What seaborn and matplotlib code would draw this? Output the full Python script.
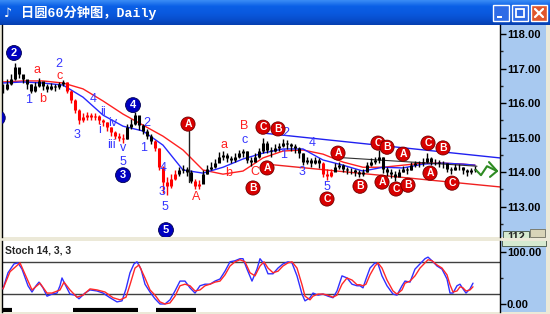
import numpy as np
import pandas as pd
import matplotlib
matplotlib.use("Agg")
import matplotlib.pyplot as plt
import seaborn as sns
from matplotlib.patches import Rectangle
from matplotlib.colors import LinearSegmentedColormap

# ---------------- data ----------------
close = [116.40,116.55,116.70,117.05,116.85,116.70,116.55,116.35,116.50,116.65,
         116.50,116.40,116.50,116.45,116.55,116.62,116.35,116.10,115.80,115.50,
         115.60,115.65,115.60,115.62,115.50,115.45,115.30,115.15,115.05,115.00,
         114.95,115.30,115.40,115.65,115.35,115.20,115.05,114.90,114.70,114.15,
         113.70,113.60,113.80,113.95,114.05,114.10,114.00,113.75,113.60,113.65,
         113.95,114.10,114.15,114.25,114.45,114.50,114.40,114.35,114.45,114.55,
         114.60,114.35,114.30,114.45,114.60,114.85,114.65,114.60,114.70,114.75,
         114.85,114.80,114.75,114.70,114.55,114.30,114.35,114.25,114.35,114.25,
         113.95,113.90,114.00,114.15,114.20,114.10,114.05,114.05,114.00,113.95,
         114.00,114.20,114.30,114.35,114.45,114.10,114.00,113.95,113.85,114.00,
         114.10,114.05,114.20,114.25,114.25,114.30,114.40,114.30,114.30,114.25,
         114.25,114.10,114.05,114.15,114.15,114.05,114.00,114.05,114.10]
high = [116.55,116.70,116.85,117.15,117.00,116.80,116.65,116.55,116.62,116.72,
        116.62,116.55,116.58,116.55,116.62,116.68,116.62,116.38,116.12,115.82,
        115.70,115.75,115.72,115.72,115.65,115.55,115.45,115.32,115.20,115.12,
        115.10,115.38,115.55,115.75,115.62,115.40,115.25,115.10,114.92,114.70,
        114.18,113.85,113.95,114.05,114.15,114.20,114.15,114.05,113.80,113.78,
        114.05,114.20,114.28,114.38,114.58,114.62,114.55,114.48,114.55,114.65,
        114.68,114.62,114.45,114.55,114.70,115.00,114.90,114.72,114.80,114.85,
        114.95,114.92,114.85,114.80,114.72,114.55,114.45,114.40,114.45,114.40,
        114.28,114.10,114.10,114.25,114.28,114.22,114.15,114.12,114.10,114.05,
        114.10,114.28,114.40,114.45,114.65,114.45,114.15,114.08,114.02,114.10,
        114.18,114.15,114.28,114.32,114.32,114.40,114.55,114.45,114.38,114.35,
        114.32,114.25,114.15,114.22,114.22,114.15,114.10,114.12,114.18]
low = [116.30,116.38,116.52,116.68,116.72,116.58,116.42,116.28,116.32,116.45,
       116.38,116.32,116.38,116.36,116.42,116.48,116.30,116.00,115.70,115.40,
       115.45,115.52,115.50,115.50,115.38,115.33,115.20,115.05,114.95,114.90,
       114.85,114.95,115.25,115.35,115.22,115.10,114.95,114.80,114.60,114.05,
       113.40,113.35,113.55,113.78,113.90,113.98,113.88,113.68,113.50,113.52,
       113.70,113.95,114.05,114.12,114.28,114.35,114.30,114.25,114.30,114.42,
       114.45,114.25,114.18,114.28,114.42,114.55,114.55,114.45,114.58,114.62,
       114.72,114.68,114.62,114.55,114.42,114.20,114.22,114.15,114.22,114.12,
       113.85,113.78,113.85,114.02,114.08,114.00,113.95,113.95,113.90,113.85,
       113.90,114.00,114.18,114.22,114.25,113.98,113.90,113.82,113.75,113.90,
       114.00,113.95,114.05,114.15,114.15,114.18,114.25,114.20,114.20,114.15,
       114.12,114.00,113.95,114.05,114.05,113.95,113.90,113.95,114.00]
red_ranges = [(16, 30), (38, 43), (48, 49), (80, 82)]

ma_t = [0, 5, 10, 15, 20, 25, 30, 35, 40, 45, 50, 55, 60, 65, 70, 75, 80, 85,
        90, 95, 100, 105, 110, 115, 118]
ma_fast = [116.58,116.61,116.58,116.52,116.17,115.65,115.33,115.19,114.78,114.06,
           113.97,114.14,114.38,114.55,114.67,114.67,114.35,114.20,114.03,114.14,
           114.12,114.23,114.26,114.23,114.20]
ma_slow = [116.61,116.64,116.64,116.58,116.41,116.06,115.68,115.36,115.04,114.64,
           114.06,113.94,114.03,114.41,114.61,114.64,114.52,114.29,114.14,114.14,
           114.20,114.26,114.26,114.23,114.20]

chan_upper = ([65, 124.25], [115.13, 114.41])
chan_lower = ([66.75, 124.25], [114.22, 113.57])
chan_mid = ([83, 118.5], [114.43, 114.17])
forecast = ([118.25, 119.5, 121, 123.5], [114.06, 113.91, 114.17, 114.03])
forecast_head = ([121.5, 123.5, 121.75], [114.29, 114.03, 113.86])

k_t = [0,1.25,2.75,3.75,4.75,6.25,7.25,8.25,9,10,11,12.25,13.5,14.25,14.75,15.5,16.75,18,19,20.5,
       21.75,23.5,25,26.75,28.5,29.75,30.75,31.75,32.75,33.5,34.5,35.5,36.75,38,39.25,40.5,41.75,43,44.25,45.5,
       46.75,48,49.25,50.5,51.75,53,54.25,55.5,56.75,58,59.25,60,61,62.25,63.5,64.25,65.25,66.25,67.5,68.75,
       70,71.25,72.25,73.5,74.75,75.5,76.75,77.5,78.75,80,81.25,82.5,83.5,84.75,86,87.25,88.5,89.25,90,90.75,
       91.75,93,93.75,94.75,96,97.5,98.5,99.75,100.5,101.75,103,104.25,105.5,106.25,107.25,108.5,109.75,111,111.75,112.5,
       113.5,114.25,115,115.75,116.75,117.5]
k_val = [29,60,77,79,67,35,23,35,42,31,15,19,21,35,50,38,19,17,10,21,
         27,25,21,12,4,6,29,60,77,81,67,38,23,10,0,0,8,25,44,44,
         31,21,35,38,38,44,48,63,81,83,87,87,67,44,67,87,77,58,58,69,
         77,81,79,54,19,6,12,21,17,19,15,12,25,54,50,38,35,35,31,48,
         69,79,77,54,35,19,17,35,44,42,67,77,87,90,83,73,67,48,21,21,
         35,38,29,21,29,40]
d_t = [0,1.75,4.25,7.25,9.25,11,12.25,14.25,15.25,16.75,18.5,20,21.75,23.5,25.5,27.5,29.25,30.75,31.75,33,
       34,35.5,36.75,38,39.25,40.5,41.75,43,44.25,45.5,46.75,48,49.25,50.5,51.75,53,54.25,55.5,56.75,58,
       59.25,60.5,61.75,63,64.25,65.25,66.25,67.5,68.75,70,71.25,72.25,73.5,74.75,75.5,76.75,77.5,78.75,80,81.25,
       82.5,83.5,84.75,86,87.25,88.5,89.25,90,90.75,91.75,93,93.75,94.75,96,97.5,98.5,99.75,100.5,101.75,103,
       104.25,105.5,106.25,107.25,108.5,109.75,111,111.75,112.5,113.5,114.25,115,115.75,116.75,117.5]
d_val = [29,62,79,27,40,21,21,27,42,27,13,17,29,27,23,12,8,13,37,69,
         75,50,27,17,4,0,2,15,35,38,35,25,27,35,38,42,44,56,73,81,
         85,81,60,54,73,81,69,60,63,73,79,81,69,37,15,8,15,19,19,17,
         13,17,38,50,46,37,37,35,38,56,73,79,69,46,25,19,27,40,44,54,
         69,79,85,83,75,69,56,37,23,25,33,31,25,27,33]
signal_bars = [(0, 2.25), (17.5, 33.75), (38.25, 48.25)]

price_ticks = [118, 117, 116, 115, 114, 113]
stoch_ticks = [0, 100]
stoch_levels = [20, 80]

wave_labels = [("1", 6.5, 116.09, "b"), ("2", 14, 117.13, "b"), ("a", 8.5, 116.96, "r"),
               ("b", 10, 116.12, "r"), ("c", 14.25, 116.78, "r"), ("3", 18.5, 115.07, "b"),
               ("4", 22.5, 116.12, "b"), ("i", 24.25, 115.22, "b"), ("ii", 25, 115.74, "b"),
               ("iii", 27, 114.78, "b"), ("iv", 27.5, 115.42, "b"), ("v", 30, 114.70, "b"),
               ("5", 30, 114.30, "b"), ("2", 36, 115.42, "b"), ("1", 35.25, 114.70, "b"),
               ("4", 40, 114.12, "b"), ("3", 39.75, 113.42, "b"), ("5", 40.5, 112.99, "b"),
               ("A", 48.25, 113.28, "r"), ("a", 55.25, 114.78, "r"), ("b", 56.5, 113.97, "r"),
               ("B", 60.25, 115.33, "r"), ("c", 60.5, 114.93, "b"), ("C", 63, 114.0, "r"),
               ("2", 70.75, 115.13, "b"), ("1", 70.25, 114.49, "b"), ("3", 74.75, 114.0, "b"),
               ("4", 77.25, 114.84, "b"), ("5", 81, 113.57, "b")]
red_circles = [("A", 46.25, 115.39), ("C", 65, 115.30), ("B", 68.75, 115.25), ("A", 66, 114.12),
               ("B", 62.5, 113.54), ("A", 83.75, 114.55), ("C", 81, 113.22), ("B", 89.25, 113.59),
               ("C", 93.75, 114.84), ("B", 96, 114.72), ("A", 94.75, 113.71), ("C", 98.25, 113.51),
               ("B", 101.25, 113.62), ("A", 100, 114.52), ("C", 106.25, 114.84), ("B", 110, 114.70),
               ("A", 106.75, 113.97), ("C", 112.25, 113.68)]
blue_circles = [("2", 2.75, 117.45), ("3", 30, 113.91), ("4", 32.5, 115.94), ("5", 40.75, 112.32),
                ("1", -1.3, 115.57)]

# ---------------- style ----------------
sns.set_theme(style="white")
plt.rcParams["font.family"] = ["Liberation Sans", "Noto Sans CJK SC", "DejaVu Sans"]

W, H = 550, 314
fig = plt.figure(figsize=(5.5, 3.14), dpi=100, facecolor="#ECE9D8")


def rect(x0, y0, x1, y1):
    return [x0 / W, 1 - y1 / H, (x1 - x0) / W, (y1 - y0) / H]


# background / window chrome
bg = fig.add_axes([0, 0, 1, 1])
bg.set_xlim(0, W)
bg.set_ylim(H, 0)
bg.axis("off")
bg.set_zorder(-1)
cmap = LinearSegmentedColormap.from_list("xp", ["#3A8CF5", "#0A5FE6", "#0A5AE0", "#0850D0", "#063FB0"])
bg.imshow(np.linspace(0, 1, 50).reshape(-1, 1), extent=(0, W, 25, 0), aspect="auto", cmap=cmap)
bg.text(8, 13, "♪", color="white", fontsize=9, ha="center", va="center", family="DejaVu Sans")
bg.text(21, 13, "日圆60分钟图，Daily", color="white", fontsize=9.5, fontweight="bold",
        ha="left", va="center", family=["Liberation Mono", "Noto Sans CJK SC"])
for x0, fc in [(493, "#2E6BE6"), (512, "#2E6BE6"), (531, "#E0562C")]:
    bg.add_patch(Rectangle((x0, 5), 16, 16, fc=fc, ec="white", lw=1))
bg.add_patch(Rectangle((497, 16), 5, 2, fc="white", ec="none"))
bg.add_patch(Rectangle((516, 9), 8, 8, fc="none", ec="white", lw=1.3))
bg.plot([535, 543], [9, 17], color="white", lw=1.6)
bg.plot([535, 543], [17, 9], color="white", lw=1.6)
bg.add_patch(Rectangle((500, 25), 46, 212, fc="#A8C9F0", ec="none"))
bg.add_patch(Rectangle((500, 241), 46, 71, fc="#A8C9F0", ec="none"))
bg.add_patch(Rectangle((503, 231), 26, 8, fc="#D6EAD0", ec="#405040", lw=0.6, zorder=2))
bg.text(516, 237, "112", fontsize=8, fontweight="bold", ha="center", va="center", zorder=3)
bg.add_patch(Rectangle((530, 229), 15, 8, fc="#D8D4B8", ec="#707060", lw=0.6, zorder=2))
bg.add_patch(Rectangle((500, 237.5), 50, 3.5, fc="#ECE9D8", ec="none", zorder=4))
bg.add_patch(Rectangle((502, 240), 44, 6, fc="#D6EAD0", ec="#405040", lw=0.6, zorder=2))

# ---------------- main price panel ----------------
ax = fig.add_axes(rect(2, 25, 500, 237))
ax.set_facecolor("white")
n = len(close)
t = np.arange(n)
colors = ["#000000"] * n
for a, b in red_ranges:
    for i in range(a, b + 1):
        colors[i] = "#FF0000"
opens = [close[0]] + close[:-1]
ax.vlines(t, low, high, colors=colors, lw=1.0, zorder=3)
ax.vlines(t, np.minimum(opens, close), np.maximum(opens, close), colors=colors, lw=2.2, zorder=3)

sns.lineplot(x=ma_t, y=ma_slow, ax=ax, color="#FF2020", lw=1.0, estimator=None, zorder=2)
sns.lineplot(x=ma_t, y=ma_fast, ax=ax, color="#2828FF", lw=1.0, estimator=None, zorder=2)
sns.lineplot(x=chan_upper[0], y=chan_upper[1], ax=ax, color="#2020F0", lw=1.0, estimator=None, zorder=2)
sns.lineplot(x=chan_lower[0], y=chan_lower[1], ax=ax, color="#F02020", lw=1.0, estimator=None, zorder=2)
sns.lineplot(x=chan_mid[0], y=chan_mid[1], ax=ax, color="#303030", lw=0.8, estimator=None, zorder=2)
ax.plot(forecast[0], forecast[1], color="#2E8B22", lw=1.5, zorder=4)
ax.plot(forecast_head[0], forecast_head[1], color="#2E8B22", lw=1.5, zorder=4)
ax.plot([46.5, 46.5], [115.2, 113.7], color="#202020", lw=1.0, zorder=4)

cmap_c = {"b": "#3535FF", "r": "#FF2020"}
for s, x, y, c in wave_labels:
    ax.text(x, y, s, color=cmap_c[c], fontsize=9, ha="center", va="center", zorder=6)
for s, x, y in red_circles:
    ax.text(x, y, s, color="white", fontsize=7.5, fontweight="bold", ha="center", va="center",
            zorder=7, bbox=dict(boxstyle="circle,pad=0.2", fc="#D80000", ec="#700000", lw=0.6))
for s, x, y in blue_circles:
    ax.text(x, y, s, color="white", fontsize=8, fontweight="bold", ha="center", va="center",
            zorder=7, clip_on=True,
            bbox=dict(boxstyle="circle,pad=0.22", fc="#0000C0", ec="#000050", lw=0.6))

ax.set_xlim(-0.25, 124.25)
ax.set_ylim(112.12, 118.26)
ax.set_xticks([])
ax.yaxis.tick_right()
ax.set_yticks(price_ticks)
ax.set_yticklabels([f"{v:.2f}" for v in price_ticks])
ax.set_yticks(np.arange(112.5, 118.5, 1.0), minor=True)
ax.tick_params(axis="y", which="major", direction="out", length=4, width=1, pad=1,
               labelsize=8, colors="black", right=True)
ax.tick_params(axis="y", which="minor", direction="out", length=2, width=1, right=True)
for lab in ax.get_yticklabels():
    lab.set_fontweight("bold")
ax.set_xlabel("")
ax.set_ylabel("")
for side in ["top", "bottom"]:
    ax.spines[side].set_visible(False)
for side in ["left", "right"]:
    ax.spines[side].set_visible(True)
    ax.spines[side].set_color("black")
    ax.spines[side].set_linewidth(1)

# ---------------- stochastic panel ----------------
sx = fig.add_axes(rect(2, 241, 500, 312))
sx.set_facecolor("white")
for lv in stoch_levels:
    sx.axhline(lv, color="#404040", lw=1.0, zorder=1)
sns.lineplot(x=k_t, y=k_val, ax=sx, color="#3030FF", lw=1.0, estimator=None, zorder=3)
sns.lineplot(x=d_t, y=d_val, ax=sx, color="#FF2828", lw=1.0, estimator=None, zorder=4)
for a, b in signal_bars:
    sx.plot([a, b], [-11.5, -11.5], color="black", lw=3, solid_capstyle="butt", zorder=5)
sx.text(3 / 498, 0.87, "Stoch 14, 3, 3", transform=sx.transAxes, fontsize=7.5,
        fontweight="bold", ha="left", va="center")
sx.set_xlim(-0.25, 124.25)
sx.set_ylim(-15.4, 121)
sx.set_xticks([])
sx.yaxis.tick_right()
sx.set_yticks(stoch_ticks)
sx.set_yticklabels([f"{v:.2f}" for v in stoch_ticks])
sx.set_yticks([50], minor=True)
sx.tick_params(axis="y", which="major", direction="out", length=4, width=1, pad=1,
               labelsize=8, colors="black", right=True)
sx.tick_params(axis="y", which="minor", direction="out", length=2, width=1, right=True)
for lab in sx.get_yticklabels():
    lab.set_fontweight("bold")
sx.set_xlabel("")
sx.set_ylabel("")
for side in ["top", "bottom"]:
    sx.spines[side].set_visible(False)
for side in ["left", "right"]:
    sx.spines[side].set_visible(True)
    sx.spines[side].set_color("black")
    sx.spines[side].set_linewidth(1)

fig.savefig("out.png", dpi=100, facecolor=fig.get_facecolor())
